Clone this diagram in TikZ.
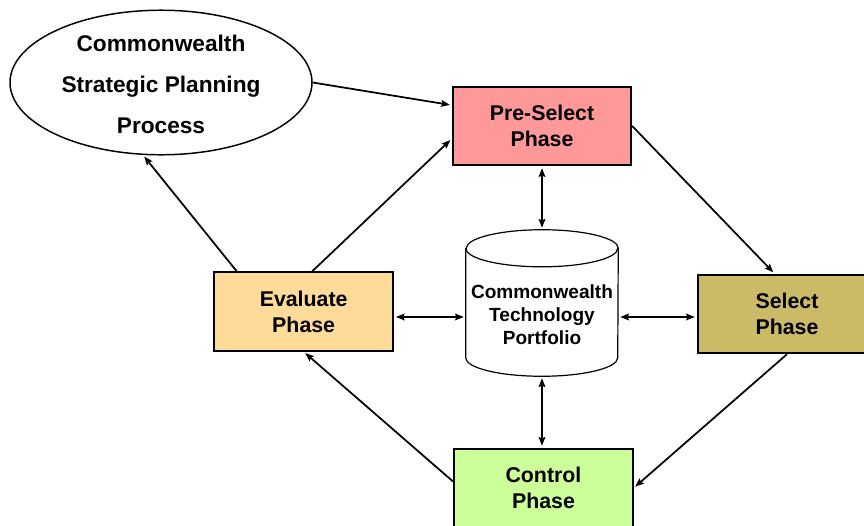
\documentclass[tikz,border=0pt]{standalone}
\usepackage{fontspec}
\setmainfont{Liberation Sans}
\usetikzlibrary{shapes.geometric, arrows.meta}
\definecolor{preselect}{RGB}{255,153,153}
\definecolor{evaluate}{RGB}{255,219,153}
\definecolor{select}{RGB}{204,187,102}
\definecolor{control}{RGB}{204,255,153}
\tikzstyle{planning} = [ellipse, minimum width=226.5pt, minimum height=105.75pt, inner sep=0pt, align=center, draw=black, line width=1.1pt, fill=white, font=\bfseries\fontsize{17}{30.75}\selectfont]
\tikzstyle{phase} = [rectangle, minimum width=134pt, minimum height=59pt, align=center, draw=black, line width=1.3pt, font=\bfseries\fontsize{16}{19.5}\selectfont]
\tikzstyle{store} = [rectangle, minimum width=114pt, minimum height=109.5pt, inner sep=0pt, align=center, font=\bfseries\fontsize{14.3}{17.25}\selectfont]
\tikzstyle{storeline} = [line width=0.9pt]
\tikzstyle{arrow} = [line width=1.3pt,-{Stealth[length=6.5pt,width=5pt,inset=1pt]}, shorten >=1.5pt]
\tikzstyle{link} = [line width=1.3pt,{Stealth[length=6.5pt,width=5pt,inset=1pt]}-{Stealth[length=6.5pt,width=5pt,inset=1pt]}, shorten >=1.5pt, shorten <=1.5pt]
\begin{document}
\begin{tikzpicture}[x=0.75pt, y=-0.75pt, node distance=132.75pt]
      \useasboundingbox (0,0) rectangle (864,525);
      \node (plan) [planning] at (161,82.5) {\rule{0pt}{15pt}Commonwealth\\Strategic Planning\\Process};
      \node (pre) [phase, fill=preselect] at (542,126) {Pre-Select\\Phase};

      % portfolio in the middle
      \node (port) [store, below of=pre] {\rule{0pt}{28pt}Commonwealth\\Technology\\Portfolio};
      \draw [storeline] ([yshift=-13.9pt]port.north west) -- ([yshift=13.9pt]port.south west)
            arc (180:360:57pt and 13.9pt) -- ([yshift=-13.9pt]port.north east)
            arc (0:180:57pt and 13.9pt);
      \draw [storeline] ([yshift=-13.9pt]port.north west) arc (180:360:57pt and 13.9pt);

      \node (ctrl) [phase, fill=control, below of=port, yshift=-6pt, xshift=1.1pt] {Control\\Phase};
      \node (eval) [phase, fill=evaluate, left of=port, xshift=-46pt, yshift=-6.4pt] {Evaluate\\Phase};
      \node (sel) [phase, fill=select, right of=port, xshift=51pt, yshift=-8.25pt] {Select\\Phase};

      \draw [arrow] (plan.east) -- (pre.167);
      \draw [arrow] (eval.78) -- (pre.188);
      \draw [arrow] (eval.149) -- (plan.256);
      \draw [arrow] (pre.east) -- (sel.107);
      \draw [arrow] (sel.south) -- (ctrl.east);
      \draw [arrow] (ctrl.176) -- (eval.south);

      \draw [link] (pre.south) -- (port.north);
      \draw [link] (port.south) -- (ctrl.north -| port.south);
      \draw [link] ([yshift=-10.5pt]port.west -| eval.east) -- ([yshift=-10.5pt]port.west);
      \draw [link] ([yshift=-10.5pt]port.east) -- ([yshift=-10.5pt]port.east -| sel.west);
    \end{tikzpicture}
\end{document}
